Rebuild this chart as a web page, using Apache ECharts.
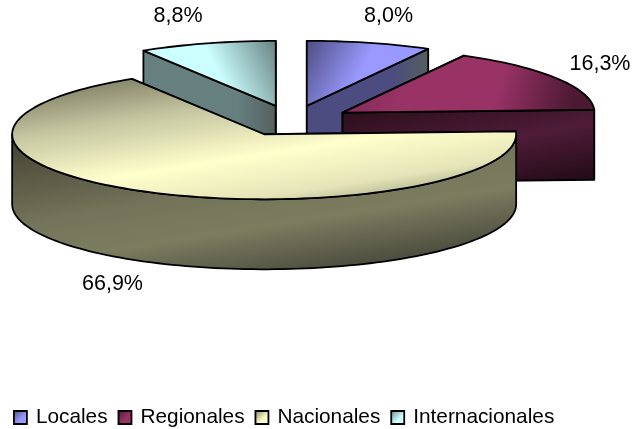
<!DOCTYPE html>
<html>
<head>
<meta charset="utf-8">
<style>html,body{margin:0;padding:0;background:#fff}#container{width:632px;height:429px}</style>
<script src="https://cdn.jsdelivr.net/npm/echarts@6/dist/echarts.min.js"></script>
</head>
<body>
<div id="container"></div>
<script>
const categories = ['Locales', 'Regionales', 'Nacionales', 'Internacionales'];
const shares = [8.0, 16.3, 66.9, 8.8];

const baseColors = ['#9999ff', '#993366', '#ffffcc', '#ccffff'];
const wallColors = ['#4c4c80', '#4c1933', '#7c7c60', '#668080'];
const topStops = [
  [[0, '#4c4c80'], [0.45, '#9999ff'], [1, '#9999ff']],
  [[0, '#7d2a55'], [0.3, '#993366'], [0.68, '#993366'], [1, '#4c1933']],
  [[0, '#86856a'], [0.25, '#c4c4a0'], [0.59, '#ffffcc'], [0.85, '#e4e4b8'], [1, '#a8a888']],
  [[0, '#ccffff'], [0.55, '#ccffff'], [1, '#668080']]
];
const topDirs = [[0, 0, 1, 1], [0, 0, 0.9, 1], [0.23, 0, 0.28, 1.32], [0, 1, 1, 0]];
const layers = [1, 2, 3, 1];
const labelSpots = [[388.5, 16], [600, 64.5], [112.5, 284.5], [178, 16]];

// pie projection
const cx = 292, cy = 120.7, rx = 252, tilt = 0.258, depth = 70, explode = 59.5;

function angles(i) {
  const total = shares.reduce((a, b) => a + b, 0);
  let from = 0;
  for (let k = 0; k < i; k++) from += shares[k];
  return [from / total * 2 * Math.PI, (from + shares[i]) / total * 2 * Math.PI];
}

function arc(c, a0, a1, dy) {
  const pts = [];
  const n = Math.max(2, Math.ceil((a1 - a0) / 0.03));
  for (let k = 0; k <= n; k++) {
    const a = a0 + (a1 - a0) * k / n;
    pts.push([c[0] + Math.sin(a) * rx, c[1] - Math.cos(a) * rx * tilt + dy]);
  }
  return pts;
}

function poly(points, fill, z2) {
  return {
    type: 'polygon', z2: z2,
    shape: { points: points },
    style: { fill: fill, stroke: '#000', lineWidth: 1.8, lineJoin: 'round' }
  };
}

function grad(dir, stops) {
  return new echarts.graphic.LinearGradient(dir[0], dir[1], dir[2], dir[3],
    stops.map(s => ({ offset: s[0], color: s[1] })));
}

function wallFill(i) {
  if (i === 2) return grad([0, 0, 0.06, 1.4], [[0, '#3f3f30'], [0.47, '#74745a'], [0.68, '#7c7c60'], [1, '#45453a']]);
  if (i === 1) return grad([0, 0, 0.095, 1.64], [[0, '#2a0e1a'], [0.5, '#4f1c38'], [1, '#1c0812']]);
  return grad([0, 0, 1, 0], [[0, wallColors[i]], [0.7, wallColors[i]], [1, '#555f5f']]);
}

function makeRender(i) {
  return function (params, api) {
    const a = angles(i);
    const mid = (a[0] + a[1]) / 2;
    const c = [cx + Math.sin(mid) * explode, cy - Math.cos(mid) * explode * tilt];
    const edge0 = arc(c, a[0], a[0], 0)[0];
    const edge1 = arc(c, a[1], a[1], 0)[0];
    const children = [];
    const radial = (p) => poly([c, p, [p[0], p[1] + depth], [c[0], c[1] + depth]], wallFill(i), 1);
    children.push(radial(edge0), radial(edge1));
    const f0 = Math.max(a[0], Math.PI / 2), f1 = Math.min(a[1], Math.PI * 1.5);
    if (f1 > f0) {
      const up = arc(c, f0, f1, 0), down = arc(c, f0, f1, depth).reverse();
      children.push(poly(up.concat(down), wallFill(i), 2));
    }
    children.push(poly([c].concat(arc(c, a[0], a[1], 0)), grad(topDirs[i], topStops[i]), 3));
    children.push({
      type: 'text', z2: 5,
      style: {
        x: labelSpots[i][0], y: labelSpots[i][1],
        text: api.value(0).toFixed(1).replace('.', ',') + '%',
        align: 'center', verticalAlign: 'middle',
        fill: '#000', fontSize: 21.5, fontFamily: '"Liberation Sans", Arial, sans-serif'
      }
    });
    return { type: 'group', children: children };
  };
}

const chart = echarts.init(document.getElementById('container'));
chart.setOption({
  animation: false,
  backgroundColor: '#fff',
  legend: {
    left: 13, top: 407, padding: 0,
    itemWidth: 13, itemHeight: 13, itemGap: 10,
    icon: 'rect',
    data: categories,
    itemStyle: { borderColor: '#000', borderWidth: 1.8 },
    textStyle: {
      fontSize: 20.8, color: '#000', padding: [0, 0, 0, 4],
      fontFamily: '"Liberation Sans", Arial, sans-serif'
    }
  },
  series: categories.map((name, i) => ({
    type: 'custom',
    name: name,
    coordinateSystem: 'none',
    z: layers[i],
    silent: true,
    itemStyle: { color: grad([0, 0, 1, 1], [[0, wallColors[i]], [0.6, baseColors[i]], [1, baseColors[i]]]) },
    renderItem: makeRender(i),
    data: [[shares[i]]]
  }))
});
</script>
</body>
</html>
